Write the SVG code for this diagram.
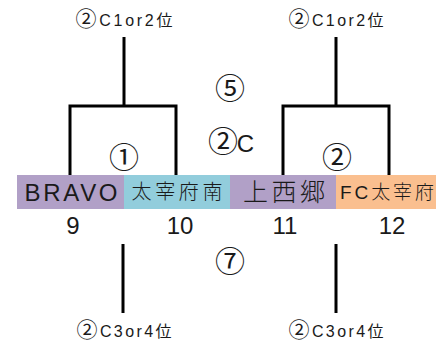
<svg xmlns="http://www.w3.org/2000/svg" width="436" height="346" viewBox="0 0 436 346">
<style>
.ln{stroke:#000;stroke-width:3;fill:none}
text{font-family:"Liberation Sans","Noto Sans CJK JP",sans-serif;fill:#1a1a1a;text-anchor:middle}
.sm{font-size:16px}
.cj{font-family:"Noto Sans CJK JP",sans-serif}
.c2{font-family:"Noto Sans CJK JP",sans-serif;font-size:21px}
.cir{font-family:"Noto Sans CJK JP",sans-serif;font-size:30px}
.num{font-size:24px}
.purple{fill:#b1a0c7}
.cyan{fill:#92cddc}
.orange{fill:#fabf8f}
</style>
<rect width="436" height="346" fill="#fff"/>
<g id="connectors">
<path class="ln" d="M124 37V106M70 106H176M70 104.5V175M176 104.5V175"/>
<path class="ln" d="M336 37V106M283 106H389M283 104.5V175M389 104.5V175"/>
<path class="ln" d="M123 244V313M336 244V313"/>
</g>
<g id="team9"><rect class="purple" x="17" y="175" width="107" height="34"/><text x="71" y="201" font-size="24" textLength="93" lengthAdjust="spacing">BRAVO</text><text class="num" x="73" y="234">9</text></g>
<g id="team10"><rect class="cyan" x="124" y="175" width="106" height="34"/><text class="cj" x="177" y="199" font-size="20" textLength="91" lengthAdjust="spacing" font-weight="300">太宰府南</text><text class="num" x="180" y="234">10</text></g>
<g id="team11"><rect class="purple" x="230" y="175" width="106" height="34"/><text class="cj" x="284" y="201" font-size="25" textLength="82" lengthAdjust="spacing" font-weight="300">上西郷</text><text class="num" x="285" y="234">11</text></g>
<g id="team12"><rect class="orange" x="336" y="175" width="100" height="34"/><text x="340" y="199" font-size="19" style="text-anchor:start" textLength="94" lengthAdjust="spacing">FC<tspan class="cj" font-weight="300">太宰府</tspan></text><text class="num" x="392" y="234">12</text></g>
<g id="labels">
<text class="sm" x="124" y="26" textLength="97" lengthAdjust="spacing"><tspan class="c2">②</tspan>C1or2<tspan class="cj">位</tspan></text>
<text class="sm" x="336" y="26" textLength="95" lengthAdjust="spacing"><tspan class="c2">②</tspan>C1or2<tspan class="cj">位</tspan></text>
<text class="cir" x="230" y="99">⑤</text>
<text x="231" y="152" textLength="46" lengthAdjust="spacing"><tspan class="cir">②</tspan><tspan font-size="24">C</tspan></text>
<text class="cir" x="124" y="168">①</text>
<text class="cir" x="337" y="168">②</text>
<text class="cir" x="230" y="272">⑦</text>
<text class="sm" x="124" y="337" textLength="95" lengthAdjust="spacing"><tspan class="c2">②</tspan>C3or4<tspan class="cj">位</tspan></text>
<text class="sm" x="336" y="337" textLength="95" lengthAdjust="spacing"><tspan class="c2">②</tspan>C3or4<tspan class="cj">位</tspan></text>
</g>
</svg>
